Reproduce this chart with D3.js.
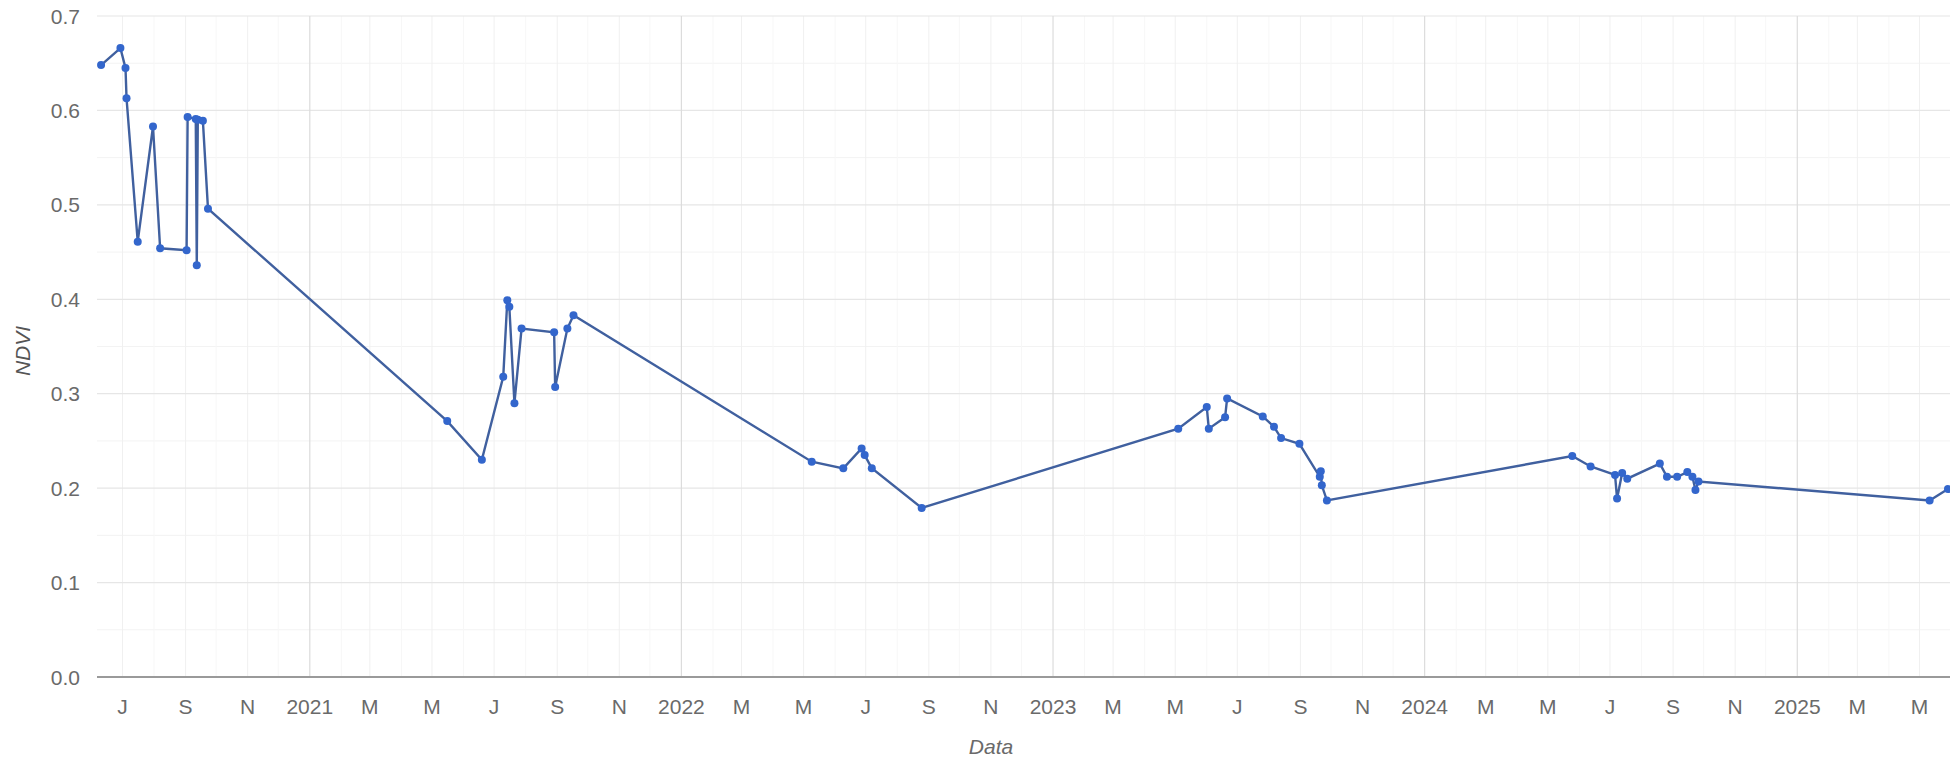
<!DOCTYPE html>
<html>
<head>
<meta charset="utf-8">
<script src="https://cdn.jsdelivr.net/npm/d3@7"></script>
<style>
  html, body { margin: 0; padding: 0; background: #ffffff; }
  svg { display: block; font-family: Arial, "Liberation Sans", sans-serif; }
</style>
</head>
<body>
<svg id="chart" width="1950" height="764"></svg>
<script>
// ---- data ----
const dates = [
  "2020-06-10","2020-06-29","2020-07-04","2020-07-05","2020-07-16","2020-07-31","2020-08-07",
  "2020-09-02","2020-09-03","2020-09-11","2020-09-12","2020-09-13","2020-09-18","2020-09-23",
  "2021-05-16","2021-06-19","2021-07-10","2021-07-14","2021-07-16","2021-07-21","2021-07-28",
  "2021-08-29","2021-08-30","2021-09-11","2021-09-17",
  "2022-05-09","2022-06-09","2022-06-27","2022-06-30","2022-07-07","2022-08-25",
  "2023-05-04","2023-06-01","2023-06-03","2023-06-19","2023-06-21","2023-07-26","2023-08-06",
  "2023-08-13","2023-08-31","2023-09-20","2023-09-21","2023-09-22","2023-09-27",
  "2024-05-25","2024-06-12","2024-07-06","2024-07-08","2024-07-13","2024-07-18","2024-08-19",
  "2024-08-26","2024-09-05","2024-09-15","2024-09-20","2024-09-23","2024-09-26",
  "2025-05-11","2025-05-29"
];
const ndvi = [
  0.648,0.666,0.645,0.613,0.461,0.583,0.454,
  0.452,0.593,0.591,0.436,0.590,0.589,0.496,
  0.271,0.230,0.318,0.399,0.392,0.290,0.369,
  0.365,0.307,0.369,0.383,
  0.228,0.221,0.242,0.235,0.221,0.179,
  0.263,0.286,0.263,0.275,0.295,0.276,0.265,
  0.253,0.247,0.212,0.218,0.203,0.187,
  0.234,0.223,0.214,0.189,0.216,0.210,0.226,
  0.212,0.212,0.217,0.212,0.198,0.207,
  0.187,0.199
];
const yTicks = [0.0, 0.1, 0.2, 0.3, 0.4, 0.5, 0.6, 0.7];
const yMinor = [0.05, 0.15, 0.25, 0.35, 0.45, 0.55, 0.65];
const monthInitials = ["J","F","M","A","M","J","J","A","S","O","N","D"];
const xDomain = ["2020-06-06", "2025-05-31"];
const xTitle = "Data";
const yTitle = "NDVI";

// ---- layout ----
const parse = d3.timeParse("%Y-%m-%d");
const data = dates.map((d, i) => ({ date: parse(d), value: ndvi[i] }));
const plotLeft = 97, plotRight = 1950, plotTop = 16, plotBottom = 677;

const x = d3.scaleTime().domain(xDomain.map(parse)).range([plotLeft, plotRight]);
const y = d3.scaleLinear().domain([0, 0.7]).range([plotBottom, plotTop]);

const svg = d3.select("#chart");
const g = svg.append("g");

// minor horizontal gridlines
g.selectAll("line.hminor").data(yMinor).join("line")
  .attr("x1", plotLeft).attr("x2", plotRight)
  .attr("y1", d => y(d)).attr("y2", d => y(d))
  .attr("stroke", "#f3f3f3").attr("stroke-width", 1);

// vertical gridlines every 2 months (minor) and every year (major)
const monthTicks = d3.timeMonth.every(2).range(x.domain()[0], x.domain()[1]);
const allMonths = d3.timeMonth.range(x.domain()[0], x.domain()[1]);
g.selectAll("line.vmonth").data(allMonths.filter(d => d.getMonth() % 2 === 1)).join("line")
  .attr("x1", d => x(d)).attr("x2", d => x(d))
  .attr("y1", plotTop).attr("y2", plotBottom)
  .attr("stroke", "#f7f7f7").attr("stroke-width", 1);
g.selectAll("line.vminor").data(monthTicks.filter(d => d.getMonth() !== 0)).join("line")
  .attr("x1", d => x(d)).attr("x2", d => x(d))
  .attr("y1", plotTop).attr("y2", plotBottom)
  .attr("stroke", "#f0f0f0").attr("stroke-width", 1);

// major horizontal gridlines
g.selectAll("line.hmajor").data(yTicks.filter(d => d > 0)).join("line")
  .attr("x1", plotLeft).attr("x2", plotRight)
  .attr("y1", d => y(d)).attr("y2", d => y(d))
  .attr("stroke", "#e6e6e6").attr("stroke-width", 1.2);

g.selectAll("line.vmajor").data(monthTicks.filter(d => d.getMonth() === 0)).join("line")
  .attr("x1", d => x(d)).attr("x2", d => x(d))
  .attr("y1", plotTop).attr("y2", plotBottom)
  .attr("stroke", "#dcdcdc").attr("stroke-width", 1.2);

// baseline
g.append("line")
  .attr("x1", plotLeft).attr("x2", plotRight)
  .attr("y1", y(0)).attr("y2", y(0))
  .attr("stroke", "#9a9a9a").attr("stroke-width", 2);

// y tick labels
g.selectAll("text.ytick").data(yTicks).join("text")
  .attr("x", 80).attr("y", d => y(d))
  .attr("dy", "0.36em")
  .attr("text-anchor", "end")
  .attr("font-size", 21)
  .attr("fill", "#6a6a6a")
  .text(d => d.toFixed(1));

// x tick labels
g.selectAll("text.xtick").data(monthTicks).join("text")
  .attr("x", d => x(d)).attr("y", 706)
  .attr("dy", "0.36em")
  .attr("text-anchor", "middle")
  .attr("font-size", 21)
  .attr("fill", "#6a6a6a")
  .text(d => d.getMonth() === 0 ? d.getFullYear() : monthInitials[d.getMonth()]);

// axis titles
g.append("text")
  .attr("x", 991).attr("y", 746)
  .attr("dy", "0.36em")
  .attr("text-anchor", "middle")
  .attr("font-size", 21).attr("font-style", "italic")
  .attr("fill", "#6a6a6a")
  .text(xTitle);

g.append("text")
  .attr("transform", `translate(22,351) rotate(-90)`)
  .attr("dy", "0.36em")
  .attr("text-anchor", "middle")
  .attr("font-size", 21).attr("font-style", "italic")
  .attr("fill", "#555555")
  .text(yTitle);

// line
const line = d3.line().x(d => x(d.date)).y(d => y(d.value));
g.append("path")
  .datum(data)
  .attr("d", line)
  .attr("fill", "none")
  .attr("stroke", "#40609f")
  .attr("stroke-width", 2.4);

// points
g.selectAll("circle.pt").data(data).join("circle")
  .attr("cx", d => x(d.date)).attr("cy", d => y(d.value))
  .attr("r", 4)
  .attr("fill", "#3366cc");
</script>
</body>
</html>
